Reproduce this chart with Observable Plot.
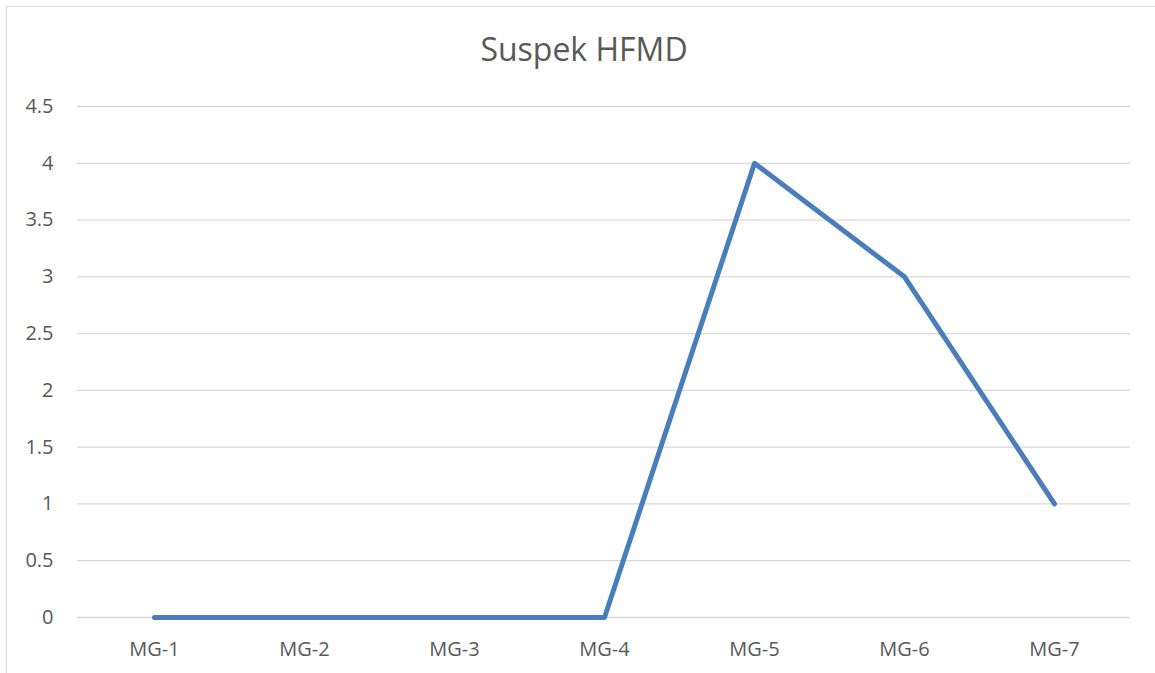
<!DOCTYPE html>
<html>
<head>
<meta charset="utf-8">
<script src="https://cdn.jsdelivr.net/npm/d3@7"></script>
<script src="https://cdn.jsdelivr.net/npm/@observablehq/plot@0.6"></script>
<style>
  html, body { margin: 0; padding: 0; background: #fff; }
  #wrap { position: relative; width: 1155px; height: 673px; overflow: hidden; }
  #frame { position: absolute; left: 6px; top: 6px; width: 1160px; height: 680px; border: 1.5px solid #d9d9d9; box-sizing: border-box; }
  #title { position: absolute; left: 0; width: 1168px; top: 33px; line-height: 1; text-align: center; font-family: "Open Sans", sans-serif; font-size: 32px; color: #595959; }
  #chart { position: absolute; left: 0; top: 0; }
</style>
</head>
<body>
<div id="wrap">
  <div id="frame"></div>
  <div id="chart"></div>
  <div id="title">Suspek HFMD</div>
</div>
<script>
const categories = ["MG-1", "MG-2", "MG-3", "MG-4", "MG-5", "MG-6", "MG-7"];
const values = [0, 0, 0, 0, 4, 3, 1];
const yTicks = [0, 0.5, 1, 1.5, 2, 2.5, 3, 3.5, 4, 4.5];

const data = categories.map((c, i) => ({cat: c, v: values[i]}));

const chart = Plot.plot({
  width: 1155,
  height: 673,
  marginLeft: 77,
  marginRight: 25,
  marginTop: 106,
  marginBottom: 56,
  style: {fontFamily: "'Open Sans', sans-serif", fontSize: "20px", color: "#595959", background: "transparent"},
  x: {type: "point", domain: categories, padding: 0.5, label: null},
  y: {domain: [0, 4.5], label: null},
  marks: [
    Plot.ruleY(yTicks, {stroke: "#d9d9d9", strokeWidth: 1.3}),
    Plot.axisY({ticks: yTicks, tickSize: 0, tickPadding: 24, tickFormat: d => String(d), label: null, fill: "#595959", fontSize: 20}),
    Plot.axisX({tickSize: 0, tickPadding: 24, label: null, fill: "#595959", fontSize: 20}),
    Plot.line(data, {x: "cat", y: "v", stroke: "#4a7ebb", strokeWidth: 5, strokeLinejoin: "round", strokeLinecap: "round"})
  ]
});
document.getElementById("chart").appendChild(chart);
</script>
</body>
</html>
